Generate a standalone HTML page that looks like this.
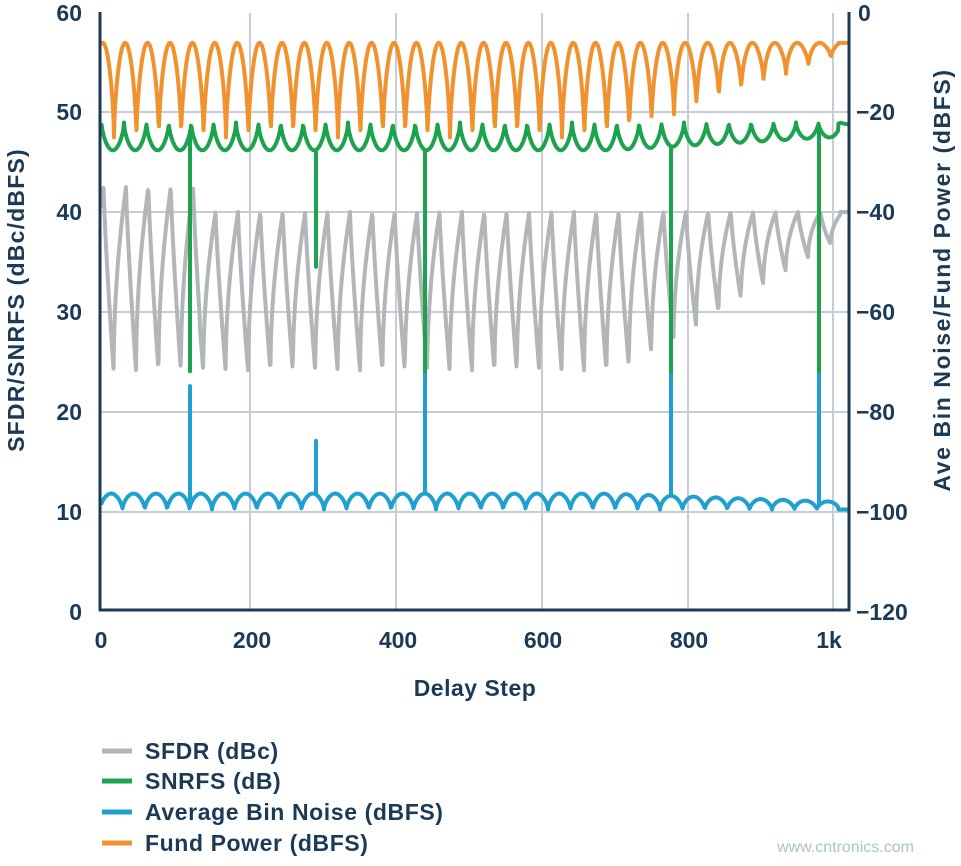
<!DOCTYPE html>
<html><head><meta charset="utf-8"><style>
body{margin:0;background:#fff;width:961px;height:861px;overflow:hidden}
svg text{font-family:"Liberation Sans",sans-serif;font-weight:bold;fill:#1b3a57}
</style></head><body>
<svg id="s" width="961" height="861" xmlns="http://www.w3.org/2000/svg">
<g stroke="#c5ced6" stroke-width="2">
<line x1="250" y1="13" x2="250" y2="610"/><line x1="396" y1="13" x2="396" y2="610"/>
<line x1="542" y1="13" x2="542" y2="610"/><line x1="688" y1="13" x2="688" y2="610"/>
<line x1="833" y1="13" x2="833" y2="610"/>
<line x1="100" y1="112" x2="849" y2="112"/><line x1="100" y1="212" x2="849" y2="212"/>
<line x1="100" y1="312" x2="849" y2="312"/><line x1="100" y1="412" x2="849" y2="412"/>
<line x1="100" y1="512" x2="849" y2="512"/>
</g>
<g id="series" fill="none" stroke-width="4" stroke-linejoin="round"></g>
<g stroke="#1b3a57" stroke-width="3">
<line x1="100" y1="12" x2="100" y2="611"/><line x1="849" y1="12" x2="849" y2="611"/>
<line x1="99" y1="610" x2="850" y2="610"/>
</g>
<g font-size="23" text-anchor="end">
<text x="82" y="21">60</text><text x="82" y="120">50</text><text x="82" y="220">40</text>
<text x="82" y="320">30</text><text x="82" y="420">20</text><text x="82" y="520">10</text><text x="82" y="620">0</text>
</g>
<g font-size="23" text-anchor="start">
<text x="858" y="21">0</text><text x="856" y="120">−20</text><text x="856" y="220">−40</text>
<text x="856" y="320">−60</text><text x="856" y="420">−80</text><text x="856" y="520">−100</text><text x="856" y="620">−120</text>
</g>
<g font-size="23" text-anchor="middle">
<text x="101" y="648">0</text><text x="252" y="648">200</text><text x="398" y="648">400</text>
<text x="543" y="648">600</text><text x="689" y="648">800</text><text x="829" y="648">1k</text>
</g>
<text x="475" y="696" font-size="23" text-anchor="middle" letter-spacing="0.5">Delay Step</text>
<text transform="translate(24,300) rotate(-90)" font-size="23" text-anchor="middle" letter-spacing="1.2">SFDR/SNRFS (dBc/dBFS)</text>
<text transform="translate(950,280) rotate(-90)" font-size="23" text-anchor="middle" letter-spacing="1.6">Ave Bin Noise/Fund Power (dBFS)</text>
<g stroke-width="5">
<line x1="102" y1="751" x2="132" y2="751" stroke="#b3b5b8"/>
<line x1="102" y1="781" x2="132" y2="781" stroke="#1da34e"/>
<line x1="102" y1="812" x2="132" y2="812" stroke="#1fa0cf"/>
<line x1="102" y1="843" x2="132" y2="843" stroke="#f0922e"/>
</g>
<g font-size="23" letter-spacing="0.6">
<text x="145" y="759">SFDR (dBc)</text><text x="145" y="789">SNRFS (dB)</text>
<text x="145" y="820">Average Bin Noise (dBFS)</text><text x="145" y="851">Fund Power (dBFS)</text>
</g>
<text x="777" y="852" font-size="16" style="font-weight:normal;fill:#a9c4cc">www.cntronics.com</text>
</svg>
<script>
const Y=v=>610-v*9.95;
const P=22.4;
function lerp(a,b,t){return a+(b-a)*Math.max(0,Math.min(1,t));}
const spikes=[[190,24,22.5],[316,34.5,17],[425,24,24],[671,24,24],[819,24,24]];
let o=[],g=[],b=[],gr=[];
for(let x=101;x<=848;x+=0.5){
 let late=(x-610)/220;
 let so=Math.abs(Math.sin(Math.PI*(x-114)/P));
 let od=lerp(9.5,1.5,late); if(x>838)od=0;
 let ov=57-od*(1-Math.pow(so,0.6));
 o.push([x,ov]);
 let sg=Math.abs(Math.sin(Math.PI*(x-124)/P));
 let gd=lerp(2.8,1.5,late); if(x>838)gd=0.2;
 let gv=49-gd*Math.pow(sg,0.6);
 let sb=Math.abs(Math.sin(Math.PI*(x-100)/P));
 let bd=lerp(1.6,0.8,late); if(x>838)bd=0;
 let bv=10.1+bd*Math.pow(sb,0.6);
 let u=(((x-126)/P)%1+1)%1;
 let top=x<200?42.5:40, bot=lerp(24,38,(x-620)/230);
 let gv2;
 if(u<0.45) gv2=top-(top-bot)*Math.pow(u/0.45,0.8);
 else gv2=bot+(top-bot)*Math.pow((u-0.45)/0.55,0.5);
 if(x>840)gv2=40;
 gr.push([x,gv2]);
 for(const s of spikes){ if(Math.abs(x-s[0])<0.3){ g.push([x,gv]);g.push([x,s[1]]);g.push([x,gv]); b.push([x,bv]);b.push([x,s[2]]);b.push([x,bv]);} }
 g.push([x,gv]); b.push([x,bv]);
}
function path(a,c){return '<path stroke="'+c+'" d="M'+a.map(p=>p[0].toFixed(1)+','+Y(p[1]).toFixed(1)).join('L')+'"/>';}
document.getElementById('series').innerHTML=path(gr,'#b3b5b8')+path(b,'#1fa0cf')+path(g,'#1da34e')+path(o,'#f0922e');
</script>
</body></html>
